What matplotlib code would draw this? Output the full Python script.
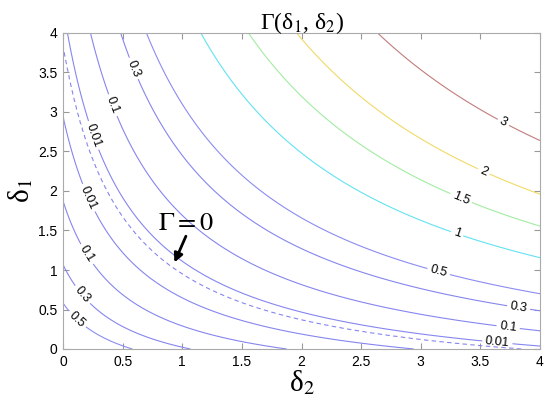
import numpy as np
import matplotlib
matplotlib.use('Agg')
import matplotlib.pyplot as plt

plt.rcParams['font.family'] = ['Liberation Sans', 'DejaVu Sans']
plt.rcParams['mathtext.fontset'] = 'stix'

# contour levels of Gamma and their line colours
levels = [0.01, 0.1, 0.3, 0.5, 1, 1.5, 2, 3]
level_colors = ['#8686ef', '#8686ef', '#8686ef', '#8c8cf2', '#62e2f2', '#a2eca2', '#f0da66', '#c27c7c']

trace_level = [-0.5, -0.5, -0.5, -0.3, -0.3, -0.3, -0.3, -0.1, -0.1, -0.1,
               -0.01, -0.01, -0.01, -0.01,
               0, 0, 0, 0, 0, 0, 0,
               0.01, 0.01, 0.01, 0.01, 0.1, 0.1, 0.1, 0.1,
               0.3, 0.3, 0.3, 0.5, 0.5, 0.5,
               1, 1, 1, 1.5, 1.5, 1.5, 2, 2, 2, 3, 3, 3, 3]
trace_d2 = [0.0, 0.576, 0.115, 0.0, 1.0, 0.5, 0.157, 0.0, 1.85, 0.21,
            0.0, 0.21, 1.99, 2.9,
            1.26, 1.46, 1.99, 2.55, 2.91, 3.27, 0.925,
            0.036, 0.24, 1.99, 4.0, 0.226, 0.39, 1.99, 4.0,
            0.48, 4.0, 0.59, 0.69, 4.0, 3.15,
            1.16, 4.0, 3.30, 1.57, 4.0, 3.33, 1.96, 4.0, 3.52, 2.66, 4.0, 3.30, 3.69]
trace_d1 = [0.6, 0.0, 0.37, 1.0, 0.0, 0.37, 0.68, 1.85, 0.0, 1.21,
            2.86, 1.91, 0.22, 0.0,
            0.87, 0.75, 0.35, 0.18, 0.09, 0.03, 1.063,
            4.0, 2.69, 0.49, 0.04, 4.0, 3.06, 0.90, 0.22,
            4.0, 0.49, 3.55, 4.0, 0.71, 0.98,
            4.0, 1.17, 1.44, 4.0, 1.57, 1.88, 4.0, 1.99, 2.22, 4.0, 2.65, 3.19, 2.86]

# estimated value in the corner at the origin (below the 1 contour there)
gamma_origin = 0.9

# where the contour labels sit (delta2, delta1)
label_pos = [(0.115, 0.37), (0.157, 0.68), (0.21, 1.21), (0.21, 1.91),
             (0.23, 2.69), (0.39, 3.07), (0.59, 3.55),
             (3.64, 0.05), (3.73, 0.24), (3.82, 0.515), (3.15, 0.98),
             (3.30, 1.44), (3.33, 1.88), (3.52, 2.22), (3.69, 2.86)]

ticks = [0, 0.5, 1, 1.5, 2, 2.5, 3, 3.5, 4]

# each contour follows (s+d1)(s+d2) = const; take the mean over its traced points
s = 0.5
lev = np.array(trace_level + [-gamma_origin], dtype=float)
lp = np.log((s + np.array(trace_d1 + [0.0])) * (s + np.array(trace_d2 + [0.0])))
uniq = np.unique(lev)
xs = np.array([lp[lev == u].mean() for u in uniq])
gs = np.sign(uniq) * np.sqrt(np.abs(uniq))   # signed sqrt(Gamma)


def signed_root(x):
    g = np.interp(x, xs, gs)
    hi = x > xs[-1]
    g[hi] = gs[-1] + (x[hi] - xs[-1]) * (gs[-1] - gs[-2]) / (xs[-1] - xs[-2])
    return g


d = np.linspace(0, 4, 401)
D2, D1 = np.meshgrid(d, d)
G = signed_root(np.log((s + D1) * (s + D2)))
gamma = G ** 2

fig = plt.figure(figsize=(5.5, 3.96), dpi=100)
ax = fig.add_axes([63 / 550, 1 - 349 / 396, 477 / 550, 316 / 396])

cs = ax.contour(D2, D1, gamma, levels=levels, colors=level_colors, linewidths=0.8)
ax.contour(D2, D1, G, levels=[0], colors='#8686ef', linewidths=0.8,
           linestyles=[(0, (4, 3))])
ax.clabel(cs, fmt='%g', fontsize=9, colors='black', manual=label_pos,
          inline=True, inline_spacing=3)

ax.annotate('', xy=(0.925, 1.063), xytext=(1.04, 1.46),
            arrowprops=dict(arrowstyle='-|>', color='black', lw=2, mutation_scale=13))
ax.text(1.03, 1.60, r'$\Gamma = 0$', fontsize=19, ha='center', va='center')

ax.set_xlim(0, 4)
ax.set_ylim(0, 4)
ax.set_xticks(ticks)
ax.set_yticks(ticks)
ax.set_xticklabels([f'{t:g}' for t in ticks])
ax.set_yticklabels([f'{t:g}' for t in ticks])
ax.tick_params(direction='in', length=4, width=0.8, color='#999999', labelsize=10,
               top=True, right=True, pad=4)
for sp in ax.spines.values():
    sp.set_color('#aaaaaa')
    sp.set_linewidth(0.8)

ax.set_title('Γ(δ$_1$, δ$_2$)', family='Liberation Serif', fontsize=17, pad=3)
ax.set_xlabel('δ$_2$', family='Liberation Serif', fontsize=21, labelpad=0)
ax.set_ylabel('δ$_1$', family='Liberation Serif', fontsize=21, labelpad=2)

fig.savefig('out.png', dpi=100, facecolor='white')
